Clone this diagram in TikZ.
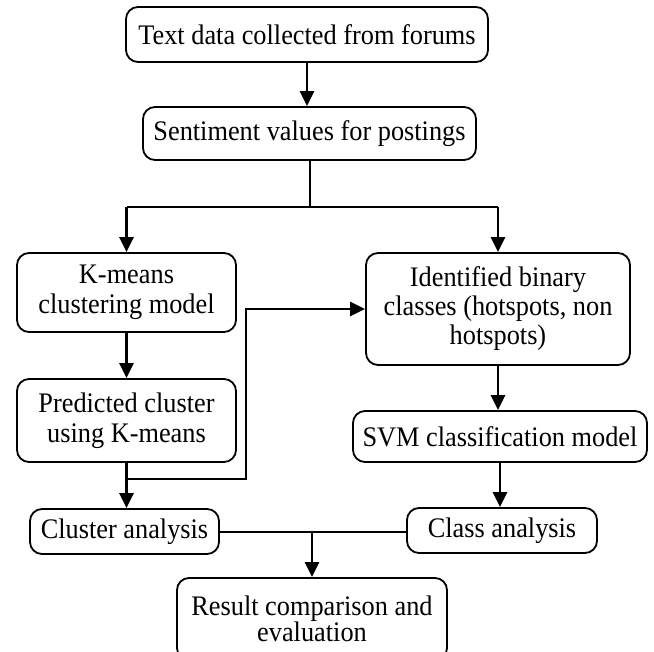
\documentclass[tikz,border=0pt]{standalone}
\usepackage{fontspec}
\setmainfont{Liberation Serif}[FakeStretch=0.93]
\usetikzlibrary{arrows.meta}
\tikzset{
  flowbox/.style={draw, line width=1.8pt, rounded corners=12pt, align=center,
    inner sep=0pt, font=\fontsize{28.3}{30}\selectfont},
  arr/.style={line width=2.6pt, -{Triangle[width=14pt,length=15pt]}},
  thinline/.style={line width=2pt}
}
\begin{document}
\begin{tikzpicture}[x=1pt,y=-1pt]
\useasboundingbox (0,0) rectangle (654,652);
\node[flowbox, minimum width=362pt, minimum height=55pt] (top) at (307,34.5) {Text data collected from forums};
\node[flowbox, minimum width=333pt, minimum height=53pt] (sent) at (309.5,133.5) {Sentiment values for postings};
\node[flowbox, minimum width=219pt, minimum height=79pt] (kmeans) at (126.5,292.5) {K-means\\clustering model};
\node[flowbox, minimum width=219pt, minimum height=83pt] (pred) at (126.5,420.5) {Predicted cluster\\using K-means};
\node[flowbox, minimum width=264pt, minimum height=112pt, font=\fontsize{28.3}{29}\selectfont] (ident) at (498,309) {Identified binary\\classes (hotspots, non\\hotspots)};
\node[flowbox, minimum width=294pt, minimum height=51pt] (svm) at (500,436.5) {SVM classification model};
\node[flowbox, minimum width=189pt, minimum height=45pt] (cluster) at (124.5,531.5) {Cluster analysis};
\node[flowbox, minimum width=190pt, minimum height=45pt] (class) at (502,530.5) {Class analysis};
\node[flowbox, minimum width=270pt, minimum height=82pt, font=\fontsize{28.3}{26.5}\selectfont] (result) at (312,619) {Result comparison and\\evaluation};

\coordinate (split) at (311,207);
\coordinate (bend) at (246,479);

\draw[arr] (top.south) -- (top.south |- sent.north);
\draw[thinline] (sent.south) -- (sent.south |- split);
\draw[thinline] (split -| kmeans.north) -- (split -| ident.north);
\draw[arr] (split -| kmeans.north) -- (kmeans.north);
\draw[arr] (split -| ident.north) -- (ident.north);
\draw[arr] (kmeans.south) -- (pred.north);
\draw[arr] (pred.south) -- (pred.south |- cluster.north);
\draw[arr] (bend -| pred.south) -- (bend) |- (ident.west);
\draw[arr] (ident.south) -- (ident.south |- svm.north);
\draw[arr] (svm.south) -- (svm.south |- class.north);
\draw[thinline] (cluster.east) -- (cluster.east -| class.west);
\draw[arr] (result.north |- cluster.east) -- (result.north);
\end{tikzpicture}
\end{document}
